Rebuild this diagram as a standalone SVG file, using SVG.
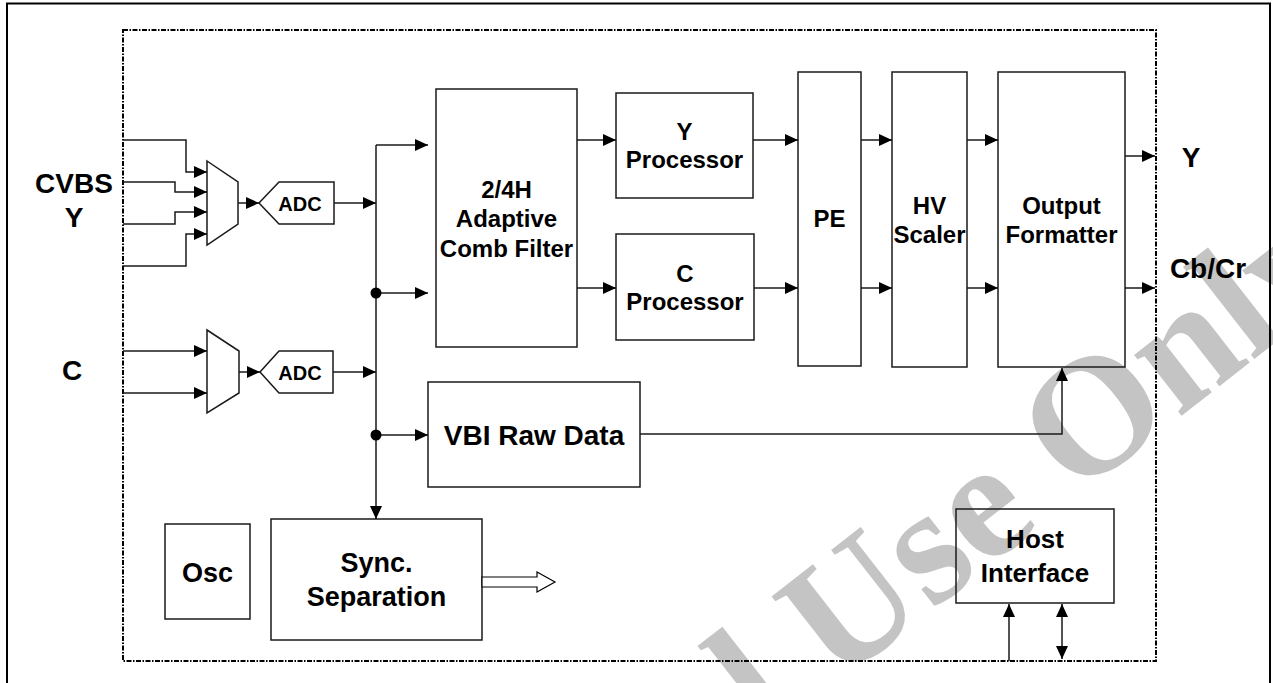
<svg xmlns="http://www.w3.org/2000/svg" width="1273" height="683" viewBox="0 0 1273 683">
<style>
  .box { fill: none; stroke: #1a1a1a; stroke-width: 1.5; }
  .ln { fill: none; stroke: #1a1a1a; stroke-width: 1.5; }
  .arr { marker-end: url(#ah); }
  .t { font-family: "Liberation Sans", Arial, sans-serif; font-weight: bold; fill: #000; text-anchor: middle; }
  .wm { font-family: "Liberation Serif", "Times New Roman", serif; font-weight: bold; fill: #c4c4c4; }
</style>
<defs>
  <marker id="ah" markerUnits="userSpaceOnUse" markerWidth="14" markerHeight="12" refX="13" refY="6" orient="auto">
    <path d="M0,0 L13,6 L0,12 z" fill="#000"/>
  </marker>
  <marker id="ahs" markerUnits="userSpaceOnUse" markerWidth="14" markerHeight="12" refX="13" refY="6" orient="auto-start-reverse">
    <path d="M0,0 L13,6 L0,12 z" fill="#000"/>
  </marker>
</defs>
<rect x="0" y="0" width="1273" height="683" fill="#fff"/>
<text class="wm" font-size="168" transform="translate(700,792) rotate(-38)">al Use Only</text>
<path d="M7,700 L7,3.5 L1270,3.5 L1270,700" fill="none" stroke="#000" stroke-width="2"/>
<rect x="123" y="30" width="1033" height="631" fill="none" stroke="#000" stroke-width="2" stroke-dasharray="5,1.5,1.5,1.5"/>

<g id="labels">
  <text class="t" font-size="28" x="74" y="193">CVBS</text>
  <text class="t" font-size="28" x="74" y="227">Y</text>
  <text class="t" font-size="28" x="72" y="380">C</text>
  <text class="t" font-size="28" x="1191" y="167">Y</text>
  <text class="t" font-size="28" x="1208" y="278">Cb/Cr</text>
</g>

<g id="mux1"><polygon class="box" points="207,161 238,182 238,224 207,245"/></g>
<g id="mux2"><polygon class="box" points="207,330 239,351 239,393 207,413"/></g>
<g id="adc1"><polygon class="box" points="259,203 279,182 334,182 334,224 279,224"/><text class="t" font-size="20" x="300" y="211">ADC</text></g>
<g id="adc2"><polygon class="box" points="260,372 279,351 333,351 333,393 279,393"/><text class="t" font-size="20" x="300" y="380">ADC</text></g>

<g id="comb"><rect class="box" x="436" y="89" width="141" height="258"/>
  <text class="t" font-size="24" x="506.5" y="198">2/4H</text>
  <text class="t" font-size="24" x="506.5" y="227">Adaptive</text>
  <text class="t" font-size="24" x="506.5" y="257">Comb Filter</text></g>
<g id="yproc"><rect class="box" x="616" y="93" width="137" height="105"/>
  <text class="t" font-size="24" x="684.5" y="140">Y</text>
  <text class="t" font-size="24" x="684.5" y="168">Processor</text></g>
<g id="cproc"><rect class="box" x="616" y="234" width="138" height="106"/>
  <text class="t" font-size="24" x="685" y="282">C</text>
  <text class="t" font-size="24" x="685" y="310">Processor</text></g>
<g id="pe"><rect class="box" x="798" y="72" width="63" height="294"/>
  <text class="t" font-size="24" x="829.5" y="227">PE</text></g>
<g id="hv"><rect class="box" x="892" y="72" width="75" height="295"/>
  <text class="t" font-size="24" x="929.5" y="214">HV</text>
  <text class="t" font-size="24" x="929.5" y="243">Scaler</text></g>
<g id="of"><rect class="box" x="998" y="72" width="127" height="295"/>
  <text class="t" font-size="24" x="1061.5" y="214">Output</text>
  <text class="t" font-size="24" x="1061.5" y="243">Formatter</text></g>
<g id="vbi"><rect class="box" x="428" y="382" width="212" height="105"/>
  <text class="t" font-size="28" x="534" y="445">VBI Raw Data</text></g>
<g id="osc"><rect class="box" x="165" y="524" width="85" height="95"/>
  <text class="t" font-size="27" x="207.5" y="582">Osc</text></g>
<g id="sync"><rect class="box" x="271" y="519" width="211" height="121"/>
  <text class="t" font-size="27" x="376.5" y="572">Sync.</text>
  <text class="t" font-size="27" x="376.5" y="606">Separation</text></g>
<g id="host"><rect class="box" x="956" y="509" width="158" height="94"/>
  <text class="t" font-size="26" x="1035" y="548">Host</text>
  <text class="t" font-size="26" x="1035" y="582">Interface</text></g>

<g id="connectors">
  <polyline class="ln arr" points="123,140 186,140 186,172 207,172"/>
  <polyline class="ln arr" points="123,182 175,182 175,192 207,192"/>
  <polyline class="ln arr" points="123,224 175,224 175,212 207,212"/>
  <polyline class="ln arr" points="123,266 186,266 186,234 207,234"/>
  <line class="ln arr" x1="123" y1="351" x2="207" y2="351"/>
  <line class="ln arr" x1="123" y1="393" x2="207" y2="393"/>
  <line class="ln arr" x1="238" y1="203" x2="259" y2="203"/>
  <line class="ln arr" x1="239" y1="372" x2="260" y2="372"/>
  <line class="ln arr" x1="334" y1="203" x2="376" y2="203"/>
  <line class="ln arr" x1="333" y1="372" x2="376" y2="372"/>
  <polyline class="ln arr" points="376,145 376,519"/>
  <line class="ln arr" x1="376" y1="145" x2="428" y2="145"/>
  <line class="ln arr" x1="376" y1="293" x2="428" y2="293"/>
  <line class="ln arr" x1="376" y1="435" x2="428" y2="435"/>
  <circle cx="376" cy="293" r="5.5" fill="#000"/>
  <circle cx="376" cy="435" r="5.5" fill="#000"/>
  <line class="ln arr" x1="577" y1="140" x2="616" y2="140"/>
  <line class="ln arr" x1="577" y1="288" x2="616" y2="288"/>
  <line class="ln arr" x1="753" y1="140" x2="798" y2="140"/>
  <line class="ln arr" x1="754" y1="288" x2="798" y2="288"/>
  <line class="ln arr" x1="861" y1="140" x2="892" y2="140"/>
  <line class="ln arr" x1="861" y1="288" x2="892" y2="288"/>
  <line class="ln arr" x1="967" y1="140" x2="998" y2="140"/>
  <line class="ln arr" x1="967" y1="288" x2="998" y2="288"/>
  <line class="ln arr" x1="1125" y1="156" x2="1155" y2="156"/>
  <line class="ln arr" x1="1125" y1="288" x2="1155" y2="288"/>
  <polyline class="ln arr" points="640,434 1062,434 1062,368"/>
  <polygon points="482,577 537,577 537,572 555,582 537,592 537,587 482,587" fill="#fff" stroke="#000" stroke-width="1.2"/>
  <line class="ln arr" x1="1009" y1="661" x2="1009" y2="604"/>
  <line class="ln" x1="1062" y1="659" x2="1062" y2="604" style="marker-start:url(#ahs);marker-end:url(#ahs)"/>
</g>
</svg>
